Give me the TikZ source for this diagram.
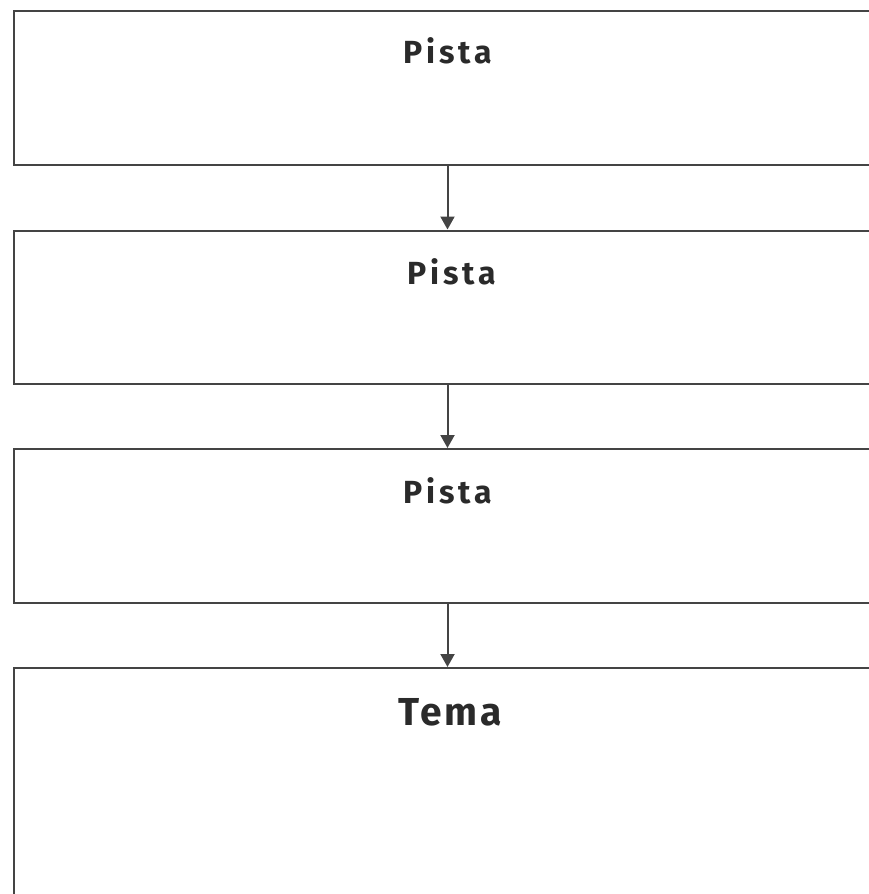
\documentclass[tikz,border=0pt]{standalone}
\usepackage{fontspec}
\setmainfont{Fira Sans}
\newfontfamily\pistafont{Fira Sans}[LetterSpace=12]
\newfontfamily\temafont{Fira Sans}[LetterSpace=7]
\usetikzlibrary{arrows.meta}
\definecolor{linegray}{HTML}{444444}
\definecolor{textgray}{HTML}{2a2a2a}
\tikzset{
  box/.style={draw=linegray, line width=2pt, rectangle, inner sep=0pt},
  lbl/.style={anchor=base, text=textgray, inner sep=0pt, font=\pistafont\bfseries\fontsize{32}{36}\selectfont},
  biglbl/.style={lbl, font=\temafont\bfseries\fontsize{39}{44}\selectfont},
  flow/.style={draw=linegray, line width=2pt, -{Triangle[width=14pt,length=13pt]}}
}
\begin{document}
\begin{tikzpicture}[x=1pt,y=-1pt]
\useasboundingbox (0,0) rectangle (869,894);
\clip (0,0) rectangle (869,894);
\node[box, minimum width=867pt, minimum height=154pt, anchor=north west] (b1) at (13,10) {};
\node[box, minimum width=867pt, minimum height=153.5pt, anchor=north west] (b2) at (13,229.5) {};
\node[box, minimum width=867pt, minimum height=154pt, anchor=north west] (b3) at (13,448) {};
\node[box, minimum width=867pt, minimum height=250pt, anchor=north west] (b4) at (13,667) {};
\node[lbl] (t1) at (448,63) {Pista};
\node[lbl] (t2) at (452,284) {Pista};
\node[lbl] (t3) at (448,503) {Pista};
\node[biglbl] (t4) at (450,725) {Tema};
\draw[flow] (b1.south) -- (b2.north);
\draw[flow] (b2.south) -- (b3.north);
\draw[flow] (b3.south) -- (b4.north);
\end{tikzpicture}
\end{document}
